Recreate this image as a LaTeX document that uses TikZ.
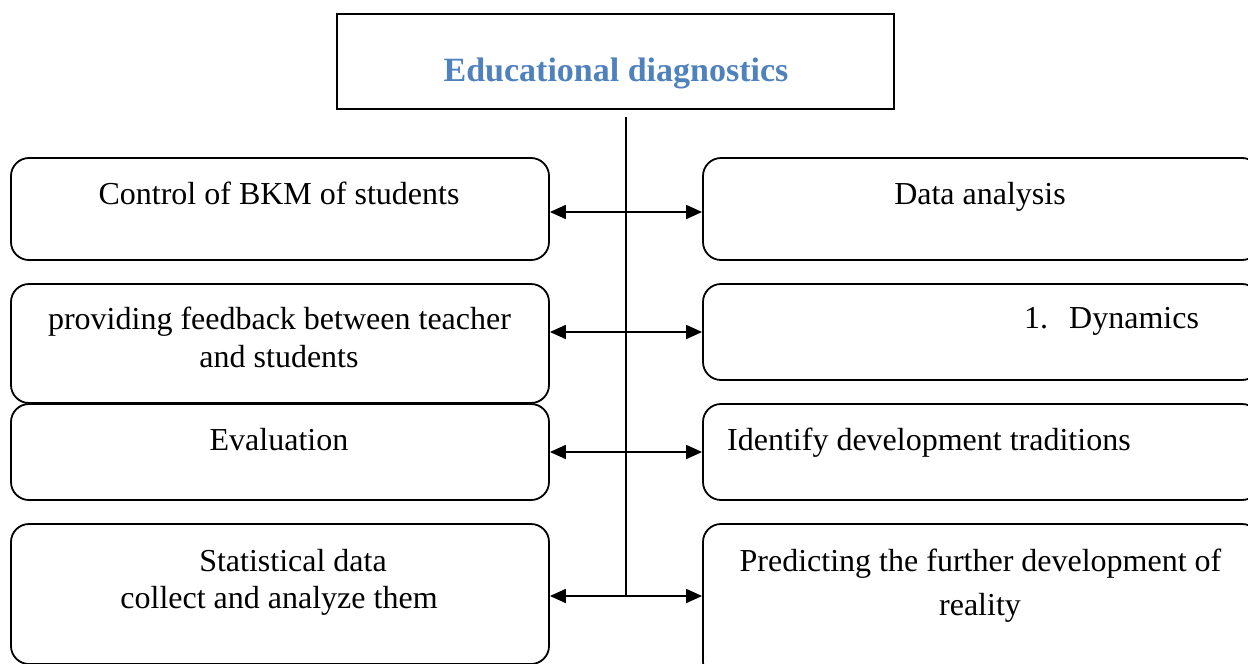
\documentclass[tikz,border=0pt]{standalone}
\usepackage{fontspec}
\setmainfont{Liberation Serif}
\usetikzlibrary{arrows.meta}
\definecolor{titleblue}{RGB}{79,129,189}
\tikzset{
  box/.style={draw=black, line width=1.8pt, rounded corners=18pt, inner sep=0pt},
  titlebox/.style={draw=black, line width=2.2pt, inner sep=0pt},
  txt/.style={inner sep=0pt, anchor=base, font=\fontsize{32}{37}\selectfont},
  txtl/.style={txt, anchor=base west},
  ttl/.style={inner sep=0pt, anchor=base, text=titleblue, font=\fontsize{34}{40}\selectfont\bfseries},
  link/.style={line width=1.8pt, {Triangle[length=16pt,width=14pt]}-{Triangle[length=16pt,width=14pt]}},
  spine/.style={line width=1.6pt}
}
\begin{document}
\begin{tikzpicture}[x=1pt,y=-1pt]
\useasboundingbox (0,0) rectangle (1248,664);
\clip (0,0) rectangle (1248,664);
% title
\node[titlebox, minimum width=557pt, minimum height=95pt] (T) at (615.5,61.5) {};
\node[ttl] (Tt) at (616,81) {Educational diagnostics};
% left boxes
\node[box, minimum width=538pt, minimum height=102pt] (L1) at (280,209) {};
\node[box, minimum width=538pt, minimum height=119pt] (L2) at (280,343.5) {};
\node[box, minimum width=538pt, minimum height=96pt] (L3) at (280,452) {};
\node[box, minimum width=538pt, minimum height=140pt] (L4) at (280,594) {};
% right boxes
\node[box, minimum width=557pt, minimum height=102pt] (R1) at (981.5,209) {};
\node[box, minimum width=557pt, minimum height=96pt] (R2) at (981.5,332) {};
\node[box, minimum width=557pt, minimum height=96pt] (R3) at (981.5,452) {};
\node[box, minimum width=557pt, minimum height=156pt] (R4) at (981.5,602) {};
% texts
\node[txt] (L1t) at (279,204) {Control of BKM of students};
\node[txt] (R1t) at (980,204) {Data analysis};
\node[txt] (L2a) at (279.5,329) {providing feedback between teacher};
\node[txt] (L2b) at (279,367) {and students};
\node[txtl] (R2t) at (1024,328) {1.\hspace{21pt}Dynamics};
\node[txt] (L3t) at (279,450) {Evaluation};
\node[txtl] (R3t) at (727,450) {Identify development traditions};
\node[txt] (L4a) at (293,571) {Statistical data};
\node[txt] (L4b) at (279,608) {collect and analyze them};
\node[txt] (R4a) at (980.5,571) {Predicting the further development of};
\node[txt] (R4b) at (980,615) {reality};
% spine
\coordinate (top) at (626,117);
\coordinate (a1) at (626,212);
\coordinate (a2) at (626,332);
\coordinate (a3) at (626,452);
\coordinate (a4) at (626,596);
\draw[spine] (top) -- (a4);
\draw[link] (L1.east |- a1) -- (R1.west |- a1);
\draw[link] (L2.east |- a2) -- (R2.west |- a2);
\draw[link] (L3.east |- a3) -- (R3.west |- a3);
\draw[link] (L4.east |- a4) -- (R4.west |- a4);
\end{tikzpicture}
\end{document}
